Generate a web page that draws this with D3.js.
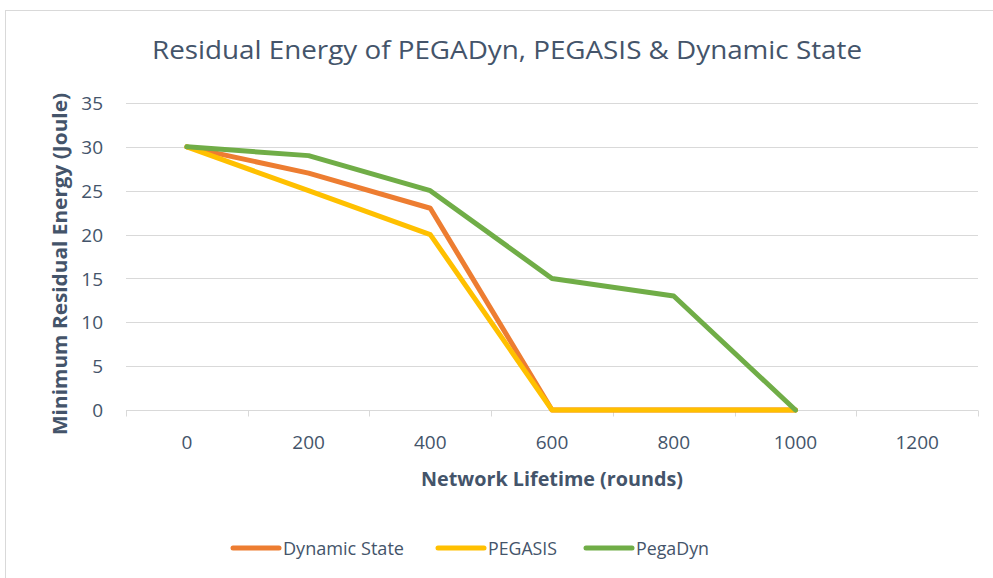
<!DOCTYPE html>
<html>
<head>
<meta charset="utf-8">
<script src="https://cdn.jsdelivr.net/npm/d3@7"></script>
<style>
  body { margin: 0; background: #fff; }
  svg text { font-family: "Open Sans", "Noto Sans", sans-serif; fill: #44546A; }
</style>
</head>
<body>
<svg id="chart" width="993" height="578"></svg>
<script>
const rounds = ["0", "200", "400", "600", "800", "1000", "1200"];
const dynamicState = [30, 27, 23, 0, 0, 0];
const pegasis = [30, 25, 20, 0, 0, 0];
const pegaDyn = [30, 29, 25, 15, 13, 0];
const yTicks = [0, 5, 10, 15, 20, 25, 30, 35];

const seriesNames = ["Dynamic State", "PEGASIS", "PegaDyn"];
const seriesColors = ["#ED7D31", "#FFC000", "#70AD47"];
const seriesValues = [dynamicState, pegasis, pegaDyn];

const margin = {top: 103, right: 15, bottom: 168, left: 126};
const width = 993, height = 578;

const svg = d3.select("#chart");

// outer chart border
svg.append("rect")
  .attr("x", 5.5).attr("y", 10.5)
  .attr("width", 990).attr("height", 570)
  .attr("fill", "none").attr("stroke", "#d9d9d9");

const x = d3.scaleBand()
  .domain(rounds)
  .range([margin.left, width - margin.right]);
const y = d3.scaleLinear()
  .domain([0, 35])
  .range([height - margin.bottom, margin.top]);

// gridlines
svg.append("g")
  .selectAll("line")
  .data(yTicks.filter(d => d > 0))
  .join("line")
  .attr("x1", margin.left).attr("x2", width - margin.right)
  .attr("y1", d => Math.round(y(d)) + 0.5).attr("y2", d => Math.round(y(d)) + 0.5)
  .attr("stroke", "#d9d9d9").attr("stroke-width", 1);

// y axis labels
const yAxis = svg.append("g")
  .attr("transform", `translate(${margin.left - 23},0)`)
  .call(d3.axisLeft(y).tickValues(yTicks).tickSize(0).tickPadding(0));
yAxis.select(".domain").remove();
yAxis.selectAll("text")
  .attr("font-size", 19)
  .attr("dy", "0.35em")
  .style("font-family", "'Open Sans', sans-serif")
  .attr("fill", "#44546A");

// x axis
const xAxisY = Math.round(y(0)) + 0.5;
svg.append("line")
  .attr("x1", margin.left).attr("x2", width - margin.right)
  .attr("y1", xAxisY).attr("y2", xAxisY)
  .attr("stroke", "#d9d9d9");
const tickPositions = rounds.map(r => x(r)).concat([width - margin.right]);
svg.append("g")
  .selectAll("line")
  .data(tickPositions)
  .join("line")
  .attr("x1", d => Math.round(d) + 0.5).attr("x2", d => Math.round(d) + 0.5)
  .attr("y1", xAxisY).attr("y2", xAxisY + 6)
  .attr("stroke", "#d9d9d9");
svg.append("g")
  .selectAll("text")
  .data(rounds)
  .join("text")
  .attr("x", d => x(d) + x.bandwidth() / 2)
  .attr("y", 449)
  .attr("text-anchor", "middle")
  .attr("font-size", 19)
  .text(d => d);

// lines
const line = d3.line()
  .x((d, i) => x(rounds[i]) + x.bandwidth() / 2)
  .y(d => y(d));
svg.append("g")
  .selectAll("path")
  .data(seriesValues)
  .join("path")
  .attr("d", d => line(d))
  .attr("fill", "none")
  .attr("stroke", (d, i) => seriesColors[i])
  .attr("stroke-width", 5)
  .attr("stroke-linejoin", "round")
  .attr("stroke-linecap", "round");

// title
svg.append("text")
  .attr("x", 507).attr("y", 59)
  .attr("text-anchor", "middle")
  .attr("font-size", 26)
  .attr("textLength", 710).attr("lengthAdjust", "spacingAndGlyphs")
  .text("Residual Energy of PEGADyn, PEGASIS & Dynamic State");

// axis titles
svg.append("text")
  .attr("x", 552).attr("y", 486)
  .attr("text-anchor", "middle")
  .attr("font-size", 19).attr("font-weight", "bold")
  .attr("textLength", 262).attr("lengthAdjust", "spacingAndGlyphs")
  .text("Network Lifetime (rounds)");
svg.append("text")
  .attr("transform", "translate(67,264) rotate(-90)")
  .attr("text-anchor", "middle")
  .attr("font-size", 19).attr("font-weight", "bold")
  .attr("textLength", 342).attr("lengthAdjust", "spacingAndGlyphs")
  .text("Minimum Residual Energy (Joule)");

// legend
const legendX = [231, 436, 584];
const legendTextW = [121, 69, 73];
const legend = svg.append("g")
  .selectAll("g")
  .data(seriesNames)
  .join("g")
  .attr("transform", (d, i) => `translate(${legendX[i]},548)`);
legend.append("line")
  .attr("x1", 2).attr("x2", 48)
  .attr("y1", 0).attr("y2", 0)
  .attr("stroke", (d, i) => seriesColors[i])
  .attr("stroke-width", 5)
  .attr("stroke-linecap", "round");
legend.append("text")
  .attr("x", 52).attr("y", 7)
  .attr("font-size", 19)
  .attr("textLength", (d, i) => legendTextW[i]).attr("lengthAdjust", "spacingAndGlyphs")
  .text(d => d);
</script>
</body>
</html>
